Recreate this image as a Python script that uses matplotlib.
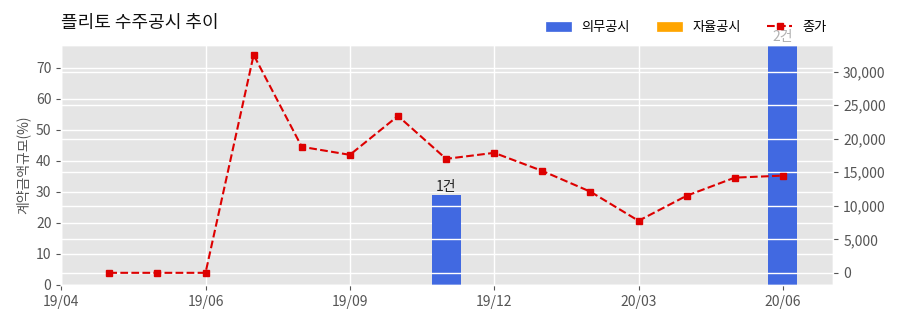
import matplotlib
matplotlib.use("Agg")
import matplotlib.pyplot as plt
import matplotlib.patches as mpatches
import matplotlib.lines as mlines
from matplotlib.ticker import FuncFormatter
plt.style.use("ggplot")
plt.rcParams["font.family"] = ["Noto Sans CJK KR", "DejaVu Sans"]

# Data
months = ["19/04", "19/05", "19/06", "19/07", "19/08", "19/09", "19/10", "19/11",
          "19/12", "20/01", "20/02", "20/03", "20/04", "20/05", "20/06"]
close = [0, 0, 0, 32500, 18800, 17600, 23400, 17000, 17900, 15200, 12100, 7760,
         11500, 14200, 14500]
bar_idx = [7, 14]
bar_val = [29, 77.5]
bar_lab = ["1건", "2건"]
tick_pos = [-1, 2, 5, 8, 11, 14]
tick_lab = ["19/04", "19/06", "19/09", "19/12", "20/03", "20/06"]

fig = plt.figure(figsize=(9, 3.23), dpi=100)
ax1 = fig.add_axes([0.068, 0.118, 0.858, 0.743])
ax1.set_axisbelow(True)
ax1.bar(bar_idx, bar_val, width=0.6, color="#4169E1", zorder=1)
for i, v, s in zip(bar_idx, bar_val, bar_lab):
    ax1.text(i, v + 0.3, s, ha="center", va="bottom", fontsize=10, color="#222222", clip_on=False)
ax1.set_xlim(-1, 15.05)
ax1.set_ylim(0, 77.4)
ax1.set_yticks(range(0, 80, 10))
ax1.set_xticks(tick_pos)
ax1.set_xticklabels(tick_lab)
ax1.set_ylabel("계약금액규모(%)", fontsize=10, color="#555555")
ax1.tick_params(labelsize=10, colors="#555555")
ax1.grid(True, color="white", linewidth=1)

ax2 = ax1.twinx()
ax2.plot(range(len(close)), close, color="#DD0000", linestyle="--", linewidth=1.5,
         marker="s", markersize=4)
ax2.set_ylim(-1800, 34000)
ax2.set_yticks(range(0, 35000, 5000))
ax2.yaxis.set_major_formatter(FuncFormatter(lambda v, p: "{:,.0f}".format(v)))
ax2.tick_params(labelsize=10, colors="#555555")
ax2.grid(True, color="white", linewidth=1)
ax2.grid(False, axis="x")

fig.text(0.068, 0.93, "플리토 수주공시 추이", fontsize=13, color="#111111", va="center")

h1 = mpatches.Patch(color="#4169E1", label="의무공시")
h2 = mpatches.Patch(color="#FFA500", label="자율공시")
h3 = mlines.Line2D([], [], color="#DD0000", linestyle="--", marker="s", markersize=4, label="종가")
leg = fig.legend(handles=[h1, h2, h3], loc="center right", bbox_to_anchor=(0.935, 0.915), ncol=3,
                 frameon=True, fontsize=9.5, handlelength=1.9, columnspacing=2.0,
                 facecolor="white", edgecolor="none", framealpha=0.65, borderpad=0.6)

plt.savefig("out.png", dpi=100)
